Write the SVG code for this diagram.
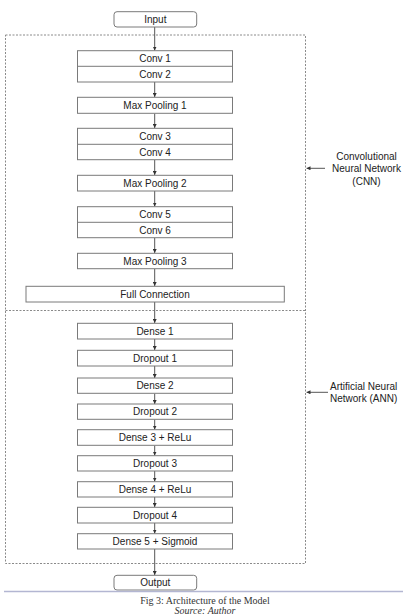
<svg xmlns="http://www.w3.org/2000/svg" width="403" height="616" viewBox="0 0 403 616">
<style>
.box{fill:#fff;stroke:#7a7a7a;stroke-width:1}
.lbl{font-family:"Liberation Sans",Arial,sans-serif;font-size:10px;fill:#222;text-anchor:middle}
.side{font-family:"Liberation Sans",Arial,sans-serif;font-size:10px;fill:#222}
.grp{fill:none;stroke:#8a8a8a;stroke-width:1;stroke-dasharray:2,1.5}
.con{stroke:#555;stroke-width:1;fill:none;marker-end:url(#ah)}
.cap{font-family:"Liberation Serif","Times New Roman",serif;font-size:10px;fill:#333;text-anchor:middle}
</style>
<defs>
<marker id="ah" viewBox="0 0 6 6" refX="6" refY="3" markerWidth="4" markerHeight="4" orient="auto" markerUnits="userSpaceOnUse">
<path d="M0,0 L6,3 L0,6 Z" fill="#333"/>
</marker>
</defs>
<rect width="403" height="616" fill="#fff"/>
<g id="groups">
<rect class="grp" x="5.5" y="35" width="300" height="528.5"/>
<line class="grp" x1="5.5" y1="310.5" x2="305.5" y2="310.5"/>
</g>
<g id="connectors">
<line class="con" x1="154.7" y1="27" x2="154.7" y2="50.5"/>
<line class="con" x1="154.7" y1="82" x2="154.7" y2="97"/>
<line class="con" x1="154.7" y1="113.5" x2="154.7" y2="128"/>
<line class="con" x1="154.7" y1="160" x2="154.7" y2="175"/>
<line class="con" x1="154.7" y1="191" x2="154.7" y2="206.5"/>
<line class="con" x1="154.7" y1="238" x2="154.7" y2="253"/>
<line class="con" x1="154.7" y1="269" x2="154.7" y2="286"/>
<line class="con" x1="154.7" y1="302" x2="154.7" y2="323"/>
<line class="con" x1="154.7" y1="339" x2="154.7" y2="350"/>
<line class="con" x1="154.7" y1="366" x2="154.7" y2="378"/>
<line class="con" x1="154.7" y1="393.5" x2="154.7" y2="404"/>
<line class="con" x1="154.7" y1="419.5" x2="154.7" y2="429.5"/>
<line class="con" x1="154.7" y1="445.5" x2="154.7" y2="455.5"/>
<line class="con" x1="154.7" y1="471" x2="154.7" y2="481.5"/>
<line class="con" x1="154.7" y1="497" x2="154.7" y2="507"/>
<line class="con" x1="154.7" y1="523" x2="154.7" y2="533.5"/>
<line class="con" x1="154.7" y1="549" x2="154.7" y2="575"/>
<line class="con" x1="325" y1="168.3" x2="306.5" y2="168.3"/>
<line class="con" x1="328" y1="392.3" x2="306.5" y2="392.3"/>
</g>
<g id="input"><rect class="box" x="114" y="11.7" width="82.7" height="15.3" rx="3"/><text class="lbl" x="155.3" y="22.8">Input</text></g>
<g id="conv12"><rect class="box" x="77.5" y="50.7" width="155" height="31.3"/><line class="box" x1="77.5" y1="66.3" x2="232.5" y2="66.3"/><text class="lbl" x="155" y="62">Conv 1</text><text class="lbl" x="155" y="77.6">Conv 2</text></g>
<g id="maxpool1"><rect class="box" x="77.5" y="97.3" width="155" height="16"/><text class="lbl" x="155" y="108.8">Max Pooling 1</text></g>
<g id="conv34"><rect class="box" x="77.5" y="128.3" width="155" height="31.4"/><line class="box" x1="77.5" y1="144.3" x2="232.5" y2="144.3"/><text class="lbl" x="155" y="139.8">Conv 3</text><text class="lbl" x="155" y="155.5">Conv 4</text></g>
<g id="maxpool2"><rect class="box" x="77.5" y="175.3" width="155" height="15.7"/><text class="lbl" x="155" y="186.8">Max Pooling 2</text></g>
<g id="conv56"><rect class="box" x="77.5" y="206.7" width="155" height="31"/><line class="box" x1="77.5" y1="222.3" x2="232.5" y2="222.3"/><text class="lbl" x="155" y="218">Conv 5</text><text class="lbl" x="155" y="233.5">Conv 6</text></g>
<g id="maxpool3"><rect class="box" x="77.5" y="253.3" width="155" height="15.4"/><text class="lbl" x="155" y="264.6">Max Pooling 3</text></g>
<g id="fullconn"><rect class="box" x="26" y="286.3" width="258.3" height="15.7"/><text class="lbl" x="155" y="297.8">Full Connection</text></g>
<g id="dense1"><rect class="box" x="77.5" y="323.3" width="155" height="15.7"/><text class="lbl" x="155" y="334.8">Dense 1</text></g>
<g id="dropout1"><rect class="box" x="77.5" y="350.3" width="155" height="15.7"/><text class="lbl" x="155" y="361.8">Dropout 1</text></g>
<g id="dense2"><rect class="box" x="77.5" y="378" width="155" height="15.3"/><text class="lbl" x="155" y="389.3">Dense 2</text></g>
<g id="dropout2"><rect class="box" x="77.5" y="404" width="155" height="15.3"/><text class="lbl" x="155" y="415.3">Dropout 2</text></g>
<g id="dense3"><rect class="box" x="77.5" y="429.7" width="155" height="15.6"/><text class="lbl" x="155" y="441.1">Dense 3 + ReLu</text></g>
<g id="dropout3"><rect class="box" x="77.5" y="455.7" width="155" height="15.3"/><text class="lbl" x="155" y="467">Dropout 3</text></g>
<g id="dense4"><rect class="box" x="77.5" y="481.7" width="155" height="15.3"/><text class="lbl" x="155" y="493">Dense 4 + ReLu</text></g>
<g id="dropout4"><rect class="box" x="77.5" y="507.3" width="155" height="15.7"/><text class="lbl" x="155" y="518.8">Dropout 4</text></g>
<g id="dense5"><rect class="box" x="77.5" y="533.7" width="155" height="15.3"/><text class="lbl" x="155" y="545">Dense 5 + Sigmoid</text></g>
<g id="output"><rect class="box" x="114" y="575.3" width="82.7" height="14.7" rx="3"/><text class="lbl" x="155.3" y="586.3">Output</text></g>
<g id="cnn-label"><text class="side" text-anchor="middle"><tspan x="366.5" y="159.5">Convolutional</tspan><tspan x="366.5" y="172">Neural Network</tspan><tspan x="366.5" y="185">(CNN)</tspan></text></g>
<g id="ann-label"><text class="side"><tspan x="330" y="389.5">Artificial Neural</tspan><tspan x="330" y="402">Network (ANN)</tspan></text></g>
<line x1="4" y1="591.5" x2="403" y2="591.5" stroke="#b3b6d2" stroke-width="1.5"/>
<text class="cap" x="205" y="604">Fig 3: Architecture of the Model</text>
<text class="cap" x="205" y="614" font-style="italic">Source: Author</text>
</svg>
